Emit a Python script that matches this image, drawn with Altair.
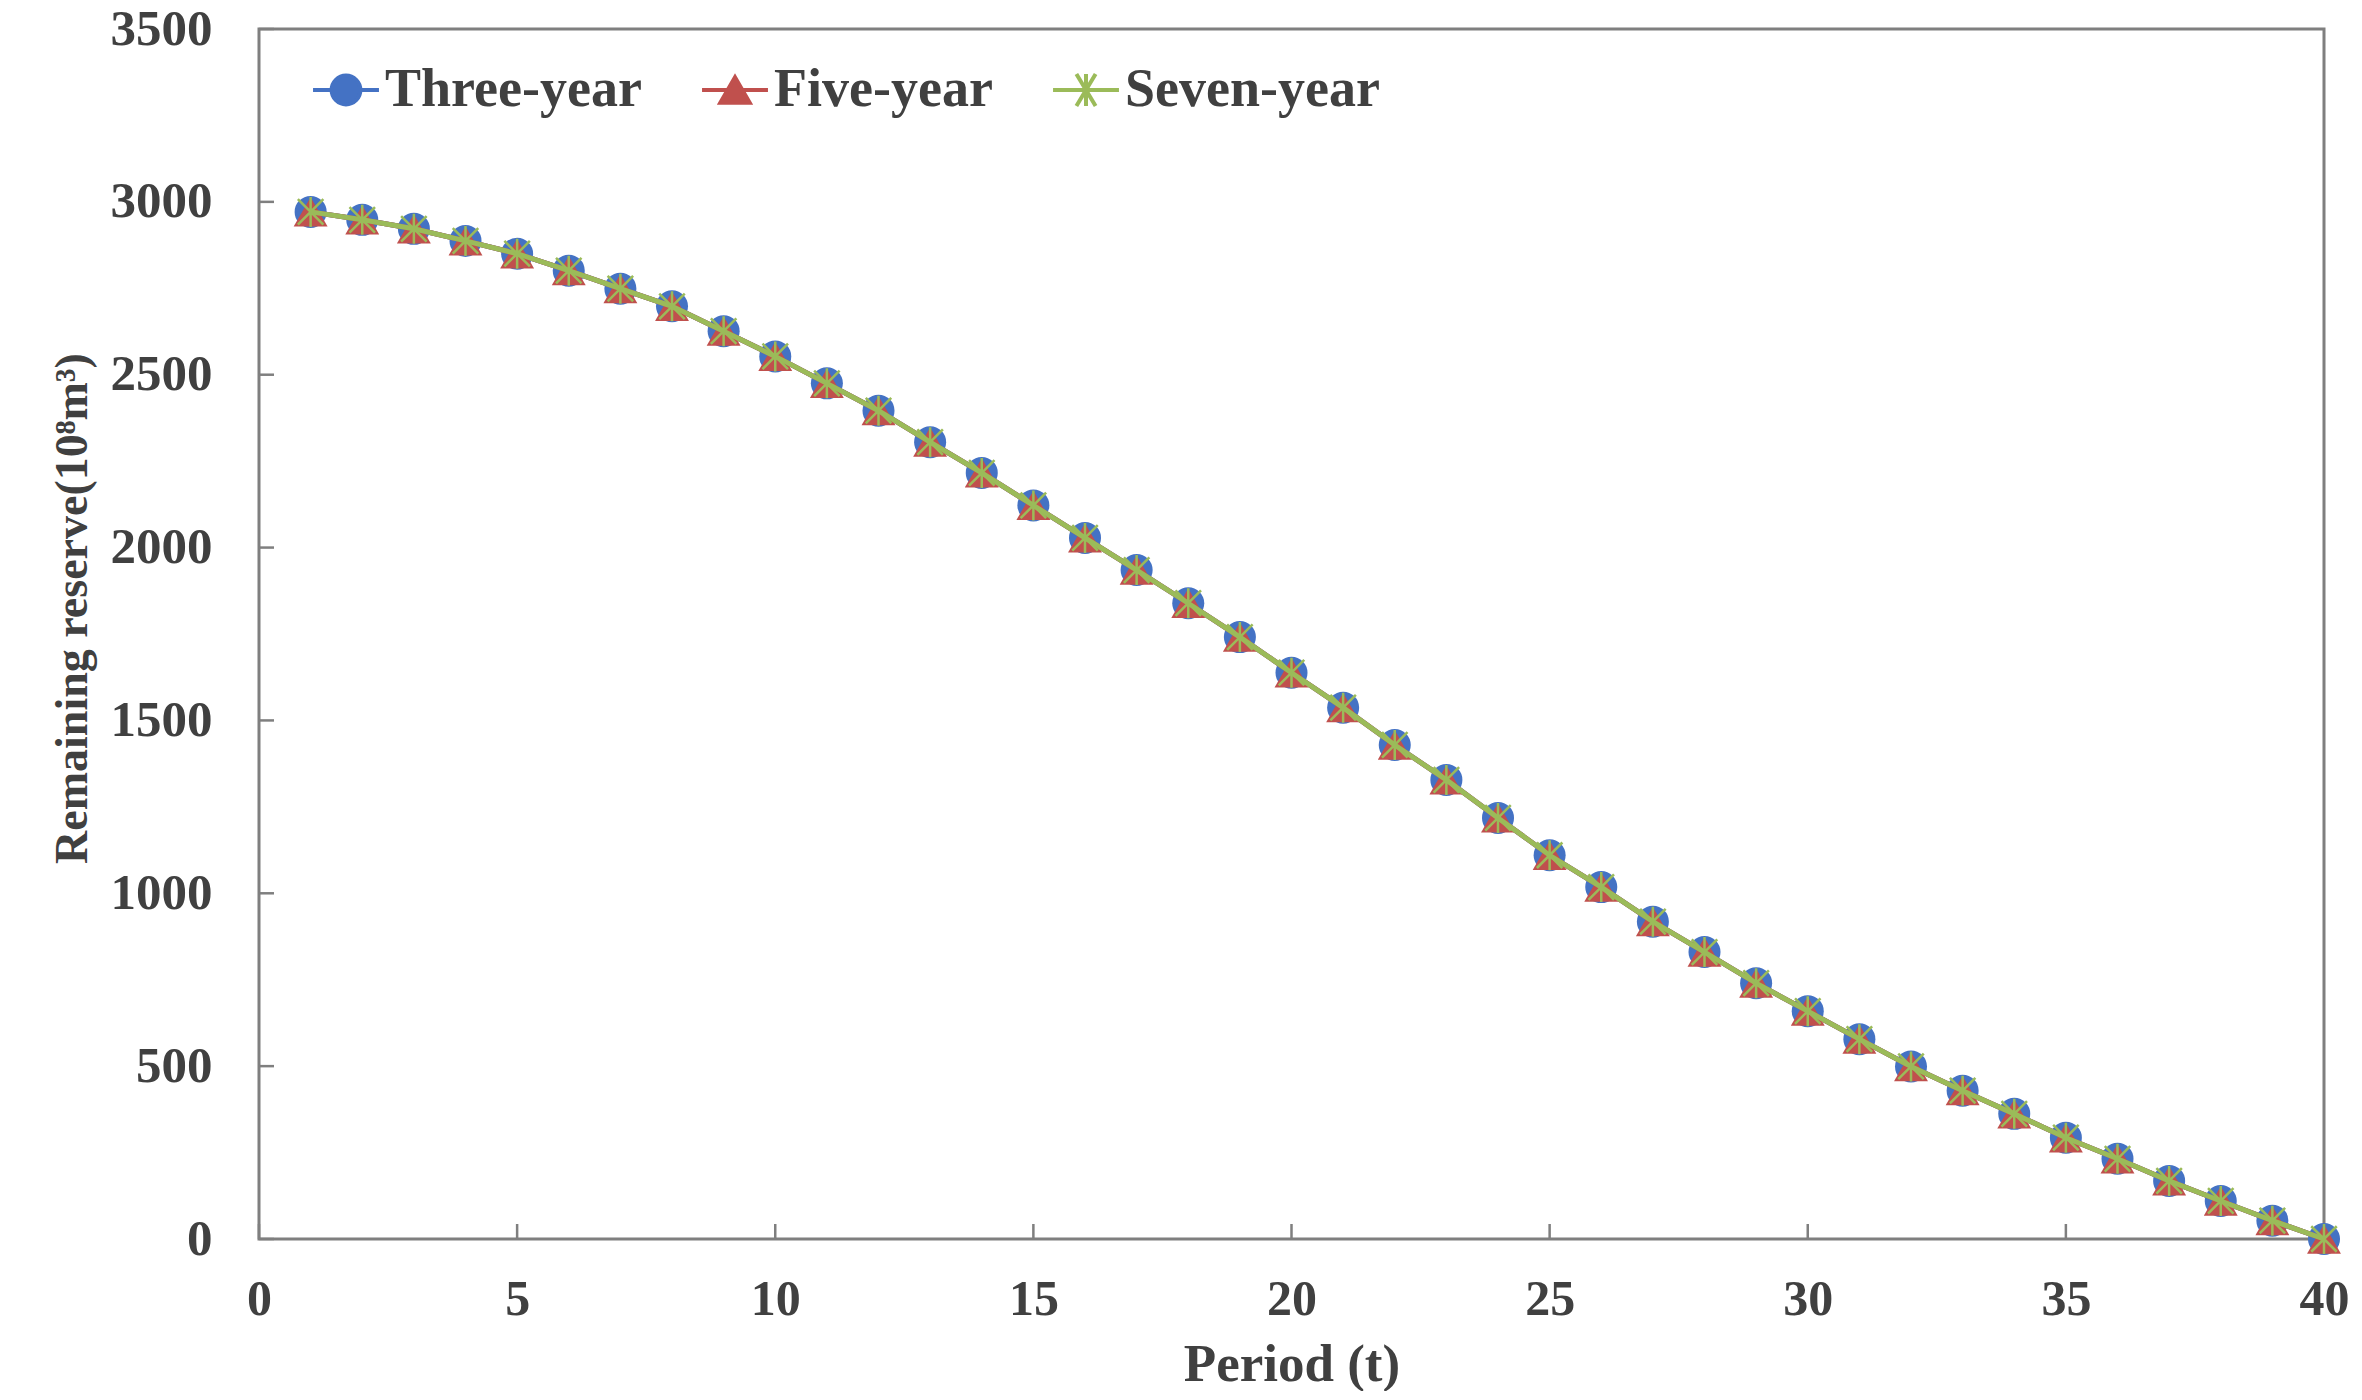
import altair as alt
import pandas as pd

# ---- data ----
periods = list(range(1, 41))
three_year = [2971, 2948, 2922, 2887, 2850, 2801, 2749, 2698, 2626, 2553,
              2475, 2396, 2305, 2216, 2122, 2028, 1935, 1839, 1741, 1638,
              1537, 1429, 1328, 1218, 1110, 1018, 918, 830, 740, 659,
              578, 499, 429, 362, 293, 232, 168, 110, 53, 0]
five_year = [2971, 2948, 2922, 2887, 2850, 2801, 2749, 2698, 2626, 2553,
             2475, 2396, 2305, 2216, 2122, 2028, 1935, 1839, 1741, 1638,
             1537, 1429, 1328, 1218, 1110, 1018, 918, 830, 740, 659,
             578, 499, 429, 362, 293, 232, 168, 110, 53, 0]
seven_year = [2971, 2948, 2922, 2887, 2850, 2801, 2749, 2698, 2626, 2553,
              2475, 2396, 2305, 2216, 2122, 2028, 1935, 1839, 1741, 1638,
              1537, 1429, 1328, 1218, 1110, 1018, 918, 830, 740, 659,
              578, 499, 429, 362, 293, 232, 168, 110, 53, 0]
series_names = ["Three-year", "Five-year", "Seven-year"]
x_ticks = [0, 5, 10, 15, 20, 25, 30, 35, 40]
y_ticks = [0, 500, 1000, 1500, 2000, 2500, 3000, 3500]

# ---- styles ----
series_colors = ["#4472C4", "#C0504D", "#9BBB59"]
ASTER = "M0,-1L0,1M-0.85,-0.85L0.85,0.85M-0.85,0.85L0.85,-0.85"
LEG_CIRCLE = "M-2.06,0L2.06,0M0.9,0A0.9,0.9,0,1,1,-0.9,0A0.9,0.9,0,1,1,0.9,0Z"
LEG_TRI = "M-2.06,0L2.06,0M0,-0.8L0.92,0.8L-0.92,0.8Z"
LEG_ASTER = "M-2.06,0L2.06,0M0,-1L0,1M-0.6,-1L0.6,1M-0.6,1L0.6,-1"
FONT = "Liberation Serif"
TXT = "#404040"
GRAY = "#7f7f7f"
W, H = 2065, 1210

rows = []
for name, vals in zip(series_names, [three_year, five_year, seven_year]):
    for t, v in zip(periods, vals):
        rows.append({"t": t, "value": v, "series": name})
df = pd.DataFrame(rows)

x_enc = alt.X("t:Q", scale=alt.Scale(domain=[0, 40], nice=False, zero=False),
              axis=alt.Axis(values=x_ticks, title="Period (t)", labelPadding=35,
                            labelFlush=False, labelFontSize=50, titleY=141,
                            titleBaseline="alphabetic", format="d"))
y_enc = alt.Y("value:Q", scale=alt.Scale(domain=[0, 3500], nice=False),
              axis=alt.Axis(values=y_ticks, title="Remaining reserve(10⁸m³)",
                            labelPadding=47, labelFontSize=51, titleX=-173, titleY=579,
                            titleAngle=270, titleBaseline="alphabetic",
                            titleAlign="center", format="d"))

base = alt.Chart(df).encode(x=x_enc, y=y_enc)

layers = []
marker_defs = [
    dict(shape="circle", filled=True, size=1024),
    dict(shape="triangle-up", filled=True, size=1150),
    dict(shape=ASTER, filled=False, size=900, strokeWidth=2.5),
]
for name, col, md in zip(series_names, series_colors, marker_defs):
    sub = base.transform_filter(alt.datum.series == name)
    layers.append(sub.mark_line(color=col, strokeWidth=5))
    layers.append(sub.mark_point(color=col, opacity=1, **md))

# inward tick marks
xt = alt.Chart(pd.DataFrame({"t": x_ticks})).mark_rule(color=GRAY, strokeWidth=2.5).encode(
    x=x_enc, y=alt.value(H - 15), y2=alt.value(H))
yt = alt.Chart(pd.DataFrame({"value": y_ticks})).mark_rule(color=GRAY, strokeWidth=2.5).encode(
    y=y_enc, x=alt.value(0), x2=alt.value(15))

# legend-only layer (points clipped away, out of domain)
leg_df = pd.DataFrame({"series": series_names, "t": [20] * 3, "value": [-1000] * 3})
legend = alt.Legend(title=None, orient="none", legendX=60, legendY=34,
                    direction="horizontal", labelFont=FONT, labelFontWeight="bold",
                    labelFontSize=54, labelColor=TXT, labelLimit=0, symbolSize=1024,
                    symbolStrokeWidth=4, labelOffset=12, columnPadding=52, padding=0)
leg = alt.Chart(leg_df).mark_point(clip=True, opacity=1, size=1024).encode(
    x=x_enc, y=y_enc,
    shape=alt.Shape("series:N", scale=alt.Scale(domain=series_names,
                    range=[LEG_CIRCLE, LEG_TRI, LEG_ASTER]), legend=legend),
    fill=alt.Fill("series:N", scale=alt.Scale(domain=series_names, range=series_colors),
                  legend=legend),
    stroke=alt.Stroke("series:N", scale=alt.Scale(domain=series_names, range=series_colors),
                      legend=legend),
)

chart = alt.layer(xt, yt, *layers, leg).properties(
    width=W, height=H,
    autosize=alt.AutoSizeParams(type="none"),
    padding={"left": 251, "top": 21, "right": 30, "bottom": 152},
).configure_view(stroke=GRAY, strokeWidth=3).configure_axis(
    labelFont=FONT, labelFontWeight="bold", labelColor=TXT,
    titleFont=FONT, titleFontWeight="bold", titleFontSize=53, titleColor=TXT,
    ticks=False, tickSize=0, domain=False, grid=False,
).configure_axisY(titleFontSize=46)

chart.save("out.html", embed_options={"renderer": "svg", "actions": False})
